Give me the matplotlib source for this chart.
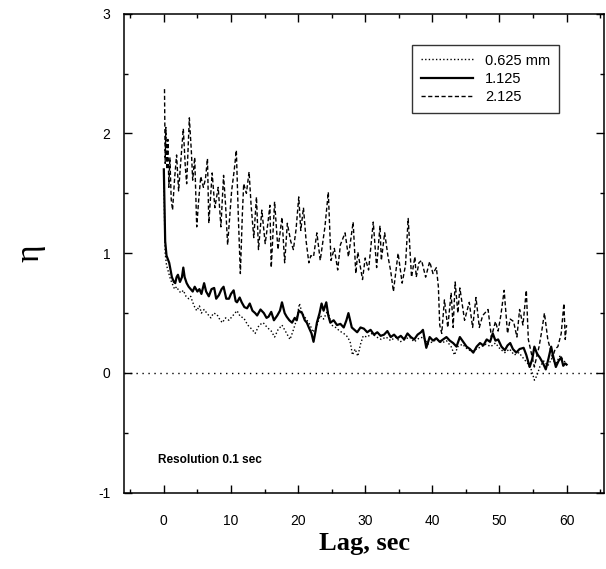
import matplotlib
matplotlib.use("Agg")
import matplotlib.pyplot as plt
from matplotlib.ticker import MultipleLocator

plt.rcParams["font.family"] = ["Liberation Sans", "DejaVu Sans"]
plt.rcParams["axes.unicode_minus"] = False

# ---- data (lag in sec, eta) ----
lag_dash = [0.1, 0.2, 0.3, 0.45, 0.6, 0.75, 0.9, 1.1, 1.3, 1.6, 1.9, 2.2, 2.5, 2.9, 3.2, 3.4,
            3.8, 4.1, 4.3, 4.6, 4.9, 5.2, 5.5, 5.9, 6.2, 6.5, 6.7, 7.0, 7.2, 7.6, 8.1, 8.5,
            8.9, 9.2, 9.5, 9.8, 10.1, 10.5, 10.8, 11.1, 11.4, 11.7, 11.9, 12.3, 12.7, 13.0,
            13.4, 13.8, 14.1, 14.6, 15.1, 15.5, 15.8, 16.0, 16.5, 17.0, 17.6, 18.0, 18.4,
            18.9, 19.3, 19.7, 20.1, 20.4, 20.8, 21.2, 21.6, 21.9, 22.3, 22.8, 23.3, 24.0,
            24.5, 24.9, 25.4, 25.9, 26.3, 27.0, 27.5, 28.2, 28.6, 28.9, 29.6, 30.0, 30.5,
            31.2, 31.7, 32.2, 32.4, 32.9, 33.4, 33.8, 34.2, 34.9, 35.5, 36.0, 36.4, 36.9,
            37.4, 37.6, 38.0, 38.4, 39.0, 39.6, 40.1, 40.6, 40.9, 41.1, 41.4, 41.8, 42.3,
            42.8, 43.1, 43.4, 43.8, 44.1, 44.8, 45.5, 46.0, 46.5, 47.0, 47.5, 48.3, 48.8,
            49.4, 49.8, 50.2, 50.7, 51.2, 51.6, 52.1, 52.6, 53.0, 53.5, 54.0, 54.3, 54.8,
            55.2, 55.6, 55.9, 56.3, 56.7, 57.2, 57.9, 58.3, 58.7, 59.2, 59.6, 59.8, 60.0]
eta_dash = [2.37, 1.75, 2.05, 1.70, 1.95, 1.55, 1.80, 1.45, 1.36, 1.62, 1.82, 1.52, 1.75, 2.04,
            1.72, 1.58, 2.13, 1.85, 1.61, 1.80, 1.22, 1.45, 1.64, 1.55, 1.62, 1.79, 1.25, 1.50,
            1.67, 1.38, 1.55, 1.22, 1.65, 1.40, 1.07, 1.30, 1.52, 1.70, 1.86, 1.30, 0.83, 1.33,
            1.58, 1.50, 1.68, 1.40, 1.13, 1.47, 1.03, 1.36, 1.08, 1.25, 1.40, 0.88, 1.43, 1.03,
            1.30, 0.92, 1.25, 1.10, 1.03, 1.20, 1.47, 1.19, 1.38, 1.10, 0.92, 0.98, 0.97, 1.17,
            0.94, 1.22, 1.51, 0.94, 1.04, 0.86, 1.07, 1.17, 0.97, 1.26, 0.83, 1.01, 0.78, 0.96,
            0.86, 1.26, 0.88, 1.23, 0.94, 1.17, 0.97, 0.85, 0.68, 1.00, 0.75, 0.90, 1.29, 0.80,
            0.97, 0.80, 0.92, 0.94, 0.80, 0.93, 0.83, 0.88, 0.72, 0.40, 0.33, 0.61, 0.38, 0.67,
            0.38, 0.76, 0.50, 0.71, 0.44, 0.59, 0.38, 0.63, 0.38, 0.48, 0.53, 0.30, 0.43, 0.35,
            0.48, 0.69, 0.33, 0.45, 0.43, 0.30, 0.53, 0.40, 0.69, 0.28, 0.15, 0.05, 0.15, 0.22,
            0.35, 0.50, 0.28, 0.13, 0.20, 0.22, 0.33, 0.58, 0.28, 0.40]

lag_solid = [0.0, 0.1, 0.2, 0.4, 0.6, 0.8, 1.0, 1.2, 1.5, 1.7, 1.9, 2.1, 2.4, 2.7, 2.9, 3.1,
             3.4, 3.7, 4.0, 4.3, 4.6, 5.0, 5.3, 5.6, 6.0, 6.3, 6.7, 7.1, 7.5, 7.8, 8.2, 8.6,
             8.9, 9.3, 9.7, 10.0, 10.4, 10.7, 10.9, 11.3, 11.6, 12.0, 12.4, 12.8, 13.2, 13.6,
             13.9, 14.4, 14.9, 15.3, 15.6, 16.0, 16.4, 16.9, 17.3, 17.6, 18.0, 18.3, 18.7,
             19.1, 19.5, 19.8, 20.1, 20.6, 21.0, 21.3, 21.6, 22.0, 22.3, 22.6, 22.8, 23.2,
             23.5, 23.8, 24.2, 24.5, 24.8, 25.3, 25.8, 26.3, 26.8, 27.2, 27.5, 28.0, 28.4,
             28.8, 29.3, 29.8, 30.3, 30.8, 31.3, 31.8, 32.3, 32.8, 33.3, 33.8, 34.3, 34.8,
             35.3, 35.8, 36.3, 36.8, 37.3, 37.8, 38.3, 38.6, 39.1, 39.6, 40.1, 40.6, 41.1,
             41.6, 42.1, 42.6, 43.1, 43.6, 44.1, 44.6, 45.1, 45.6, 46.1, 46.6, 47.1, 47.6,
             48.1, 48.6, 49.0, 49.4, 49.8, 50.3, 50.8, 51.2, 51.6, 52.0, 52.5, 53.0, 53.6,
             54.0, 54.5, 54.9, 55.2, 55.6, 56.0, 56.5, 56.9, 57.3, 57.7, 58.0, 58.4, 58.8,
             59.2, 59.5, 59.8, 60.0]
eta_solid = [1.70, 1.40, 1.10, 0.98, 0.95, 0.92, 0.86, 0.80, 0.76, 0.75, 0.80, 0.82, 0.76,
             0.80, 0.88, 0.80, 0.75, 0.72, 0.70, 0.68, 0.72, 0.68, 0.70, 0.66, 0.75, 0.68,
             0.64, 0.70, 0.71, 0.62, 0.65, 0.70, 0.72, 0.62, 0.62, 0.66, 0.69, 0.60, 0.59,
             0.63, 0.59, 0.55, 0.54, 0.58, 0.52, 0.50, 0.48, 0.53, 0.50, 0.46, 0.47, 0.51,
             0.44, 0.48, 0.52, 0.59, 0.50, 0.47, 0.44, 0.42, 0.46, 0.44, 0.52, 0.50, 0.44,
             0.42, 0.38, 0.33, 0.26, 0.35, 0.42, 0.50, 0.58, 0.52, 0.59, 0.48, 0.42, 0.44,
             0.40, 0.41, 0.38, 0.44, 0.50, 0.38, 0.36, 0.34, 0.38, 0.37, 0.34, 0.36, 0.32,
             0.34, 0.31, 0.32, 0.35, 0.30, 0.32, 0.29, 0.31, 0.28, 0.33, 0.30, 0.28, 0.32,
             0.34, 0.36, 0.21, 0.30, 0.27, 0.29, 0.26, 0.28, 0.30, 0.27, 0.25, 0.22, 0.30,
             0.26, 0.22, 0.20, 0.17, 0.22, 0.25, 0.23, 0.28, 0.26, 0.33, 0.27, 0.28, 0.22,
             0.19, 0.23, 0.25, 0.20, 0.17, 0.20, 0.21, 0.15, 0.05, 0.12, 0.22, 0.16, 0.13,
             0.08, 0.03, 0.12, 0.22, 0.14, 0.05, 0.10, 0.13, 0.06, 0.08, 0.07]

lag_dot = [0.0, 0.1, 0.2, 0.4, 0.7, 1.0, 1.3, 1.6, 1.9, 2.3, 2.6, 2.9, 3.3, 3.7, 4.0, 4.3,
           4.6, 4.9, 5.3, 5.6, 6.0, 6.4, 7.0, 7.4, 7.9, 8.3, 8.7, 9.2, 9.7, 10.3, 10.9, 11.4,
           11.9, 12.5, 13.2, 13.6, 14.2, 14.8, 15.4, 16.0, 16.5, 17.0, 17.6, 18.3, 18.8, 19.3,
           19.8, 20.2, 20.6, 21.2, 21.8, 22.2, 22.7, 23.3, 23.8, 24.4, 25.0, 25.6, 26.2, 26.8,
           27.4, 27.8, 28.1, 28.5, 28.9, 29.3, 29.7, 30.3, 31.0, 31.7, 32.4, 33.1, 33.8, 34.5,
           35.2, 35.9, 36.6, 37.3, 38.0, 38.7, 39.3, 40.0, 40.7, 41.4, 42.1, 42.8, 43.3, 43.8,
           44.5, 45.2, 45.9, 46.6, 47.3, 48.0, 48.7, 49.4, 50.1, 50.8, 51.5, 52.2, 52.9, 53.6,
           54.2, 54.8, 55.2, 55.6, 56.0, 56.6, 57.2, 57.8, 58.4, 59.0, 59.6, 60.0]
eta_dot = [1.70, 1.30, 1.00, 0.90, 0.84, 0.78, 0.74, 0.70, 0.72, 0.68, 0.67, 0.69, 0.64, 0.62,
           0.64, 0.59, 0.55, 0.52, 0.56, 0.50, 0.53, 0.50, 0.46, 0.50, 0.49, 0.45, 0.42, 0.46,
           0.44, 0.48, 0.52, 0.47, 0.46, 0.40, 0.36, 0.33, 0.40, 0.42, 0.38, 0.35, 0.30, 0.36,
           0.40, 0.33, 0.28, 0.36, 0.45, 0.58, 0.50, 0.45, 0.40, 0.34, 0.38, 0.48, 0.45, 0.52,
           0.40, 0.38, 0.35, 0.33, 0.30, 0.25, 0.15, 0.20, 0.14, 0.24, 0.31, 0.30, 0.33, 0.30,
           0.28, 0.30, 0.27, 0.30, 0.26, 0.28, 0.30, 0.26, 0.29, 0.30, 0.24, 0.26, 0.28, 0.25,
           0.27, 0.22, 0.15, 0.22, 0.24, 0.20, 0.18, 0.20, 0.22, 0.24, 0.22, 0.25, 0.20, 0.17,
           0.20, 0.15, 0.17, 0.12, 0.08, 0.02, -0.06, -0.02, 0.05, 0.10, 0.06, 0.12, 0.08, 0.14,
           0.10, 0.08]

labels = ["0.625 mm", "1.125", "2.125"]

# ---- plot ----
fig = plt.figure(figsize=(6.06, 5.69), dpi=100)
ax = fig.add_axes([0.205, 0.134, 0.792, 0.842])

ax.plot(lag_dot, eta_dot, color="k", lw=1.0, ls=(0, (1, 1.6)), label=labels[0])
ax.plot(lag_solid, eta_solid, color="k", lw=1.6, ls="-", label=labels[1])
ax.plot(lag_dash, eta_dash, color="k", lw=1.0, ls=(0, (3, 1.8)), label=labels[2])
ax.axhline(0, color="k", lw=1.0, ls=(0, (1, 3.3)))

ax.set_xlim(-5.9, 65.6)
ax.set_ylim(-1, 3)
ax.xaxis.set_major_locator(MultipleLocator(10))
ax.xaxis.set_minor_locator(MultipleLocator(5))
ax.yaxis.set_major_locator(MultipleLocator(1))
ax.yaxis.set_minor_locator(MultipleLocator(0.5))
ax.tick_params(which="both", direction="in", top=True, right=True, width=1)
ax.tick_params(which="major", length=6, labelsize=10)
ax.tick_params(axis="x", which="major", pad=15)
ax.tick_params(axis="y", which="major", pad=10)
ax.tick_params(which="minor", length=3)
for s in ax.spines.values():
    s.set_linewidth(1.1)

ax.set_xlabel("Lag, sec", family=["Liberation Serif", "DejaVu Serif"], fontweight="bold", fontsize=19)
ax.xaxis.set_label_coords(0.5, -0.082)
ax.set_ylabel("\u03b7", family=["Liberation Serif", "DejaVu Serif"], fontsize=24)
ax.yaxis.set_label_coords(-0.165, 0.5)

ax.text(-0.8, -0.73, "Resolution 0.1 sec", fontsize=8.5, fontweight="bold", va="center", ha="left")

leg = ax.legend(loc="upper right", bbox_to_anchor=(0.906, 0.935), fontsize=10.5, frameon=True,
                fancybox=False, edgecolor="k", handlelength=3.6, borderpad=0.6,
                labelspacing=0.3, handletextpad=0.8, borderaxespad=0)
leg.get_frame().set_linewidth(1.0)

fig.savefig("out.png", dpi=100)
